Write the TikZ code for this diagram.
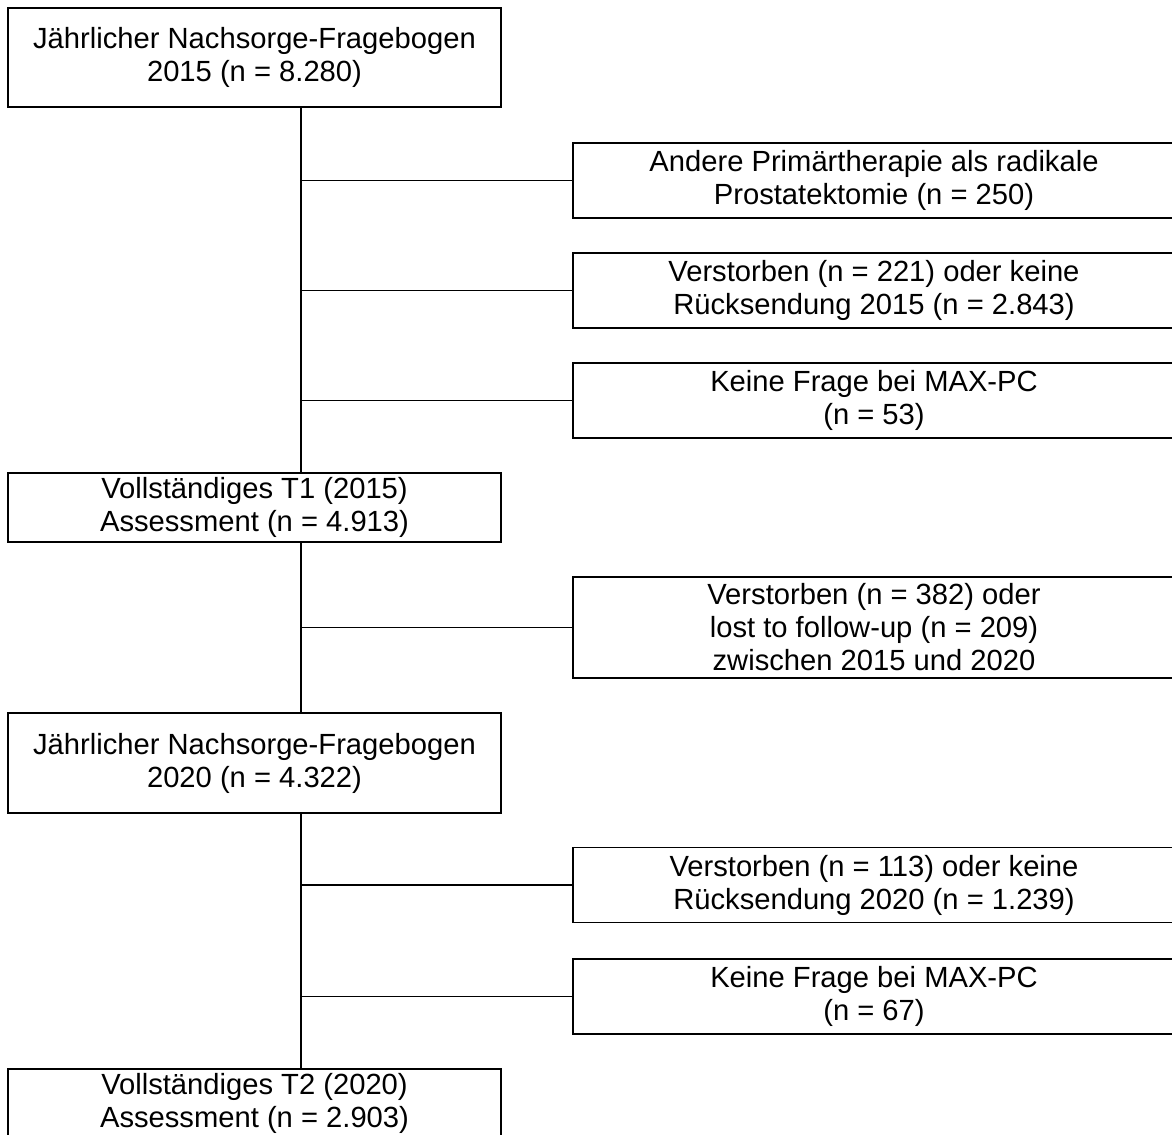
\documentclass[tikz,border=0pt]{standalone}
\usepackage{fontspec}
\setmainfont{Liberation Sans}
\begin{document}
\begin{tikzpicture}[x=0.2mm, y=-0.2mm,
        box/.style={draw, line width=1pt, align=center, inner sep=1pt,
          font=\fontsize{16.6}{18.8}\selectfont},
        lbox/.style={box, minimum width=98.6mm},
        rbox/.style={box, minimum width=120.4mm},
        link/.style={line width=1pt}]
        \useasboundingbox (0, 0) rectangle (1172, 1135);
        \clip (0, 0) rectangle (1172, 1135);
        \coordinate (trunk) at (301, 0);
        % linke Spalte
        \node[lbox, minimum height=19.8mm] (fb2015) at (254.5, 57.5)
          {Jährlicher Nachsorge-Fragebogen\\2015 (n = 8.280)};
        \node[lbox, minimum height=13.8mm] (t1) at (254.5, 507.5)
          {Vollständiges T1 (2015)\\Assessment (n = 4.913)};
        \node[lbox, minimum height=20mm] (fb2020) at (254.5, 763)
          {Jährlicher Nachsorge-Fragebogen\\2020 (n = 4.322)};
        \node[lbox, minimum height=13.8mm] (t2) at (254.5, 1103.5)
          {Vollständiges T2 (2020)\\Assessment (n = 2.903)};
        % Ausschluesse
        \node[rbox, minimum height=15mm] (ex1) at (874, 180.5)
          {Andere Primärtherapie als radikale\\Prostatektomie (n = 250)};
        \node[rbox, minimum height=15mm] (ex2) at (874, 290.5)
          {Verstorben (n = 221) oder keine\\Rücksendung 2015 (n = 2.843)};
        \node[rbox, minimum height=15mm] (ex3) at (874, 400.5)
          {Keine Frage bei MAX-PC\\(n = 53)};
        \node[rbox, minimum height=20.2mm] (ex4) at (874, 627.5)
          {Verstorben (n = 382) oder\\lost to follow-up (n = 209)\\zwischen 2015 und 2020};
        \node[rbox, minimum height=15mm] (ex5) at (874, 885)
          {Verstorben (n = 113) oder keine\\Rücksendung 2020 (n = 1.239)};
        \node[rbox, minimum height=15mm] (ex6) at (874, 996.5)
          {Keine Frage bei MAX-PC\\(n = 67)};
        % Verbindungen
        \draw[link] (fb2015.south -| trunk) -- (t1.north -| trunk);
        \draw[link] (t1.south -| trunk) -- (fb2020.north -| trunk);
        \draw[link] (fb2020.south -| trunk) -- (t2.north -| trunk);
        \foreach \ex in {ex1, ex2, ex3, ex4, ex5, ex6}
          \draw[link] (\ex.west -| trunk) -- (\ex.west);
      \end{tikzpicture}
\end{document}
